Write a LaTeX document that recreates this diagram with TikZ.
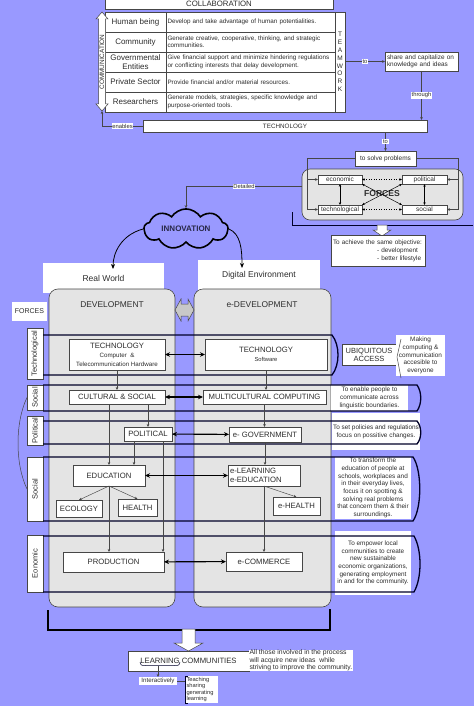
\documentclass[tikz,border=0pt]{standalone}
\usepackage{fontspec}
\setmainfont{Liberation Sans}
\usetikzlibrary{arrows.meta, shapes.symbols}
\definecolor{bgblue}{RGB}{153,153,255}
\definecolor{panel}{RGB}{228,228,228}
\definecolor{arrowgray}{RGB}{200,200,200}
\definecolor{edge}{RGB}{70,70,70}
\definecolor{ink}{RGB}{45,45,45}
\definecolor{navy}{RGB}{0,0,40}
\definecolor{cloudink}{RGB}{40,40,70}

\begin{document}
\begin{tikzpicture}[x=1pt, y=-1pt,
    box/.style={draw=edge, fill=white, line width=0.5pt, anchor=north west, inner sep=0.5pt, outer sep=0pt, align=center, text=ink, font=\fontsize{7.7}{9}\selectfont},
    actor/.style={box, minimum width=61pt, minimum height=20pt, font=\fontsize{8}{9}\selectfont},
    role/.style={box, align=left, text width=166pt, minimum height=20pt, inner xsep=1.5pt, inner ysep=0pt, font=\fontsize{6.3}{7.4}\selectfont},
    note/.style={fill=white, anchor=north west, inner sep=0.5pt, outer sep=0pt, align=center, text=ink, font=\fontsize{6.4}{7.7}\selectfont},
    forcetag/.style={box, rotate=90, anchor=center, minimum height=16pt, font=\fontsize{7.5}{8}\selectfont},
    smallbox/.style={box, minimum height=9pt, font=\fontsize{6.5}{7}\selectfont},
    lbl/.style={fill=white, inner sep=0.6pt, text=ink, font=\fontsize{5.8}{6}\selectfont},
    link/.style={draw=edge, line width=0.45pt, -{Stealth[length=3pt, width=2.6pt]}},
    forcelink/.style={draw=black, line width=0.5pt, {Stealth[length=2.8pt, width=2.4pt]}-{Stealth[length=2.8pt, width=2.4pt]}},
    bothways/.style={draw=black, line width=1.1pt, {Stealth[length=5pt, width=4.5pt]}-{Stealth[length=5pt, width=4.5pt]}},
    curvy/.style={draw=black, line width=0.8pt, -{Stealth[length=5pt, width=4pt]}},
    band/.style={draw=navy, line width=1.3pt},
    panelbox/.style={draw=edge, fill=panel, line width=0.6pt, rounded corners=9pt, anchor=north west, inner sep=0pt, outer sep=0pt},
    block/.style={draw=edge, fill=white, line width=0.5pt}
  ]
  \fill[bgblue] (0,0) rectangle (474,706);
  \useasboundingbox (0,0) rectangle (474,706);

  % collaboration table
  \node[box, minimum width=228pt, minimum height=10pt, font=\fontsize{7.8}{8}\selectfont] (collab) at (105,-1) {COLLABORATION};
  \node[actor] (human) at (105,12) {Human being};
  \node[actor] (commun) at (105,32) {Community};
  \node[actor] (govern) at (105,52) {Governmental\\Entities};
  \node[actor] (private) at (105,72) {Private Sector};
  \node[actor] (research) at (105,92) {Researchers};
  \node[role] (humanrole) at (166,12) {Develop and take advantage of human potentialities.};
  \node[role] (communrole) at (166,32) {Generate creative, cooperative, thinking, and strategic\\communities.};
  \node[role] (governrole) at (166,52) {Give financial support and minimize hindering regulations\\or conflicting interests that delay development.};
  \node[role] (privaterole) at (166,72) {Provide financial and/or material resources.};
  \node[role] (researchrole) at (166,92) {Generate models, strategies, specific knowledge and\\purpose-oriented tools.};
  \node[box, minimum width=10pt, minimum height=100pt, inner sep=0pt, font=\fontsize{6.5}{7.8}\selectfont] (team) at (335,12) {T\\E\\A\\M\\W\\O\\R\\K};

  % communication arrow
  \filldraw[block] (102,12) -- (108,19) -- (105.5,19) -- (105.5,104) -- (108,104) -- (102,111)
    -- (96,104) -- (98.5,104) -- (98.5,19) -- (96,19) -- cycle;
  \node[rotate=90, inner sep=0pt, text=ink, font=\fontsize{6.4}{7}\selectfont] (commtext) at (102,62) {COMMUNICATION};
  \coordinate (commfoot) at (102,111);

  \node[box, minimum width=284pt, minimum height=12pt, font=\fontsize{6.3}{7}\selectfont] (tech) at (143,120) {TECHNOLOGY};
  \node[box, align=left, text width=69pt, inner xsep=2pt, minimum height=19pt, font=\fontsize{6.4}{7.6}\selectfont] (share) at (385,52) {share and capitalize on\\knowledge and ideas};
  \node[box, minimum width=61pt, minimum height=15pt, font=\fontsize{6.5}{7}\selectfont] (solve) at (355,151) {to solve problems};

  \draw[link] (tech.west) -- node[lbl]{enables} (tech.west -| commfoot) -- (commfoot);
  \draw[link] (team.east |- share.west) -- node[lbl]{to} (share.west);
  \draw[link] (share.south) -- node[lbl]{through} (share.south |- tech.north);
  \draw[link] (solve.north |- tech.south) -- node[lbl]{to} (solve.north);

  % forces
  \node[panelbox, minimum width=161pt, minimum height=51pt, rounded corners=8pt] (forces) at (302,169) {};
  \node[text=ink, font=\bfseries\fontsize{8.6}{9}\selectfont] (forcestitle) at (382,194) {FORCES};
  \node[smallbox, minimum width=44pt] (econ) at (318,175) {economic};
  \node[smallbox, minimum width=45pt] (polit) at (402,175) {political};
  \node[smallbox, minimum width=44pt] (techno) at (318,205) {technological};
  \node[smallbox, minimum width=45pt] (soc) at (402,205) {social};
  \draw[link] (solve.west) -| ([xshift=-11pt]techno.west) -- (techno.west);
  \draw[link] ([xshift=-11pt]econ.west) -- (econ.west);
  \draw[link] (solve.east) -| ([xshift=11pt]soc.east) -- (soc.east);
  \draw[link] ([xshift=11pt]polit.east) -- (polit.east);
  \draw[forcelink, dotted] (econ) -- (polit);
  \draw[forcelink, dotted] (techno) -- (soc);
  \draw[forcelink] (econ) -- (techno);
  \draw[forcelink] (polit) -- (soc);
  \draw[forcelink] (econ.south east) -- (soc.north west);
  \draw[forcelink] (polit.south west) -- (techno.north east);

  \draw[navy, line width=0.6pt] (292,212) -- (292,225) -- (473,225);
  \filldraw[block] (377,225) -- (387,225) -- (387,230) -- (391,230) -- (382,236) -- (373,230) -- (377,230) -- cycle;
  \node[box, align=left, text width=90pt, inner xsep=2pt, minimum height=31pt, font=\fontsize{6.4}{8}\selectfont] (goal) at (331,235) {To achieve the same objective:\\\hspace*{44pt}- development\\\hspace*{44pt}- better lifestyle};

  % innovation
  \node[cloud, draw=black, line width=1.6pt, fill=bgblue, cloud puffs=9, cloud puff arc=115, aspect=2.4, minimum width=84pt, minimum height=34pt, inner sep=0pt, text=cloudink, font=\bfseries\fontsize{8}{9}\selectfont] (innov) at (186,229) {INNOVATION};
  \draw[link] ([yshift=8pt]forces.west) -| node[lbl, pos=0.25]{Detailed} (innov.north);

  \node[note, minimum width=121pt, minimum height=30pt, font=\fontsize{8.5}{9}\selectfont] (realw) at (43,263) {Real World};
  \node[note, minimum width=122pt, minimum height=30pt, font=\fontsize{8.5}{9}\selectfont] (digital) at (198,260) {Digital Environment};
  \coordinate (rwtip) at (113,269);
  \coordinate (detip) at (242,268);
  \draw[curvy] (innov.west) .. controls +(-22,6) and +(0,-16) .. (rwtip);
  \draw[curvy] (innov.east) .. controls +(12,5) and +(0,-18) .. (detip);

  % development columns
  \node[panelbox, minimum width=126pt, minimum height=318pt] (dev) at (49,289) {};
  \node[panelbox, minimum width=137pt, minimum height=318pt] (edev) at (194,289) {};
  \node[text=ink, font=\fontsize{8.4}{9}\selectfont] (devtitle) at (112,305) {DEVELOPMENT};
  \node[text=ink, font=\fontsize{8.4}{9}\selectfont] (edevtitle) at (262,305) {e-DEVELOPMENT};
  \filldraw[draw=edge, fill=arrowgray, line width=0.5pt] (175,310) -- (181,299) -- (181,304) -- (188,304) -- (188,299)
    -- (194,310) -- (188,321) -- (188,316) -- (181,316) -- (181,321) -- cycle;

  \node[note, minimum width=35pt, minimum height=19pt, font=\fontsize{7}{7}\selectfont] (forceslbl) at (12,302) {FORCES};
  \node[forcetag, minimum width=51pt] (tlab) at (35,353.5) {Technological};
  \node[forcetag, minimum width=25pt] (slab) at (35,397.5) {Social};
  \node[forcetag, minimum width=29pt] (plab) at (35,430.5) {Political};
  \node[forcetag, minimum width=64pt] (slabb) at (35,489) {Social};
  \node[forcetag, minimum width=57pt] (elab) at (35,563.5) {Eonomic};
  \draw[edge, line width=0.5pt] (slab.north) .. controls +(-12,25) and +(-12,-25) .. (slabb.north);

  % aims of each force
  \node[box, minimum width=54pt, minimum height=21pt, font=\fontsize{7.5}{8}\selectfont] (ubiq) at (342,344) {UBIQUITOUS\\ACCESS};
  \node[note, minimum width=49pt, minimum height=41pt, font=\fontsize{6.4}{7.8}\selectfont] (making) at (396,335) {Making\\computing \&\\communication\\accesible to\\everyone};
  \draw[edge, line width=0.5pt] (401,339) -- (397,357) -- (401,378);
  \node[note, minimum width=77pt, minimum height=26pt] (enable) at (331,385) {To enable people to\\communicate across\\linguistic boundaries.};
  \node[note, minimum width=88pt, minimum height=37pt] (policy) at (332,413) {To set policies and regulations\\focus on possitive changes.};
  \node[note, minimum width=76pt, minimum height=62pt] (transform) at (335,457) {To transform the\\education of people at\\schools, workplaces and\\in their everyday lives,\\focus it on spotting \&\\solving real problems\\that concern them \& their\\surroundings.};
  \node[note, minimum width=76pt, minimum height=64pt] (empower) at (335,531) {To empower local\\communities to create\\new sustainable\\economic organizations,\\generating employment\\in and for the community.};

  % bands
  \draw[band] (43,335) -- (332,335) .. controls (340,345) and (340,365) .. (332,375) -- (43,375);
  \draw[band] (43,385) -- (417,385) .. controls (422,392) and (422,404) .. (417,411) -- (43,411);
  \draw[band] (43,421) -- (417,421) .. controls (422,427) and (422,438) .. (417,444) -- (43,444);
  \draw[band] (43,457) -- (413,457) .. controls (422,470) and (422,508) .. (413,521) -- (43,521);
  \draw[band] (43,536) -- (414,536) .. controls (422,550) and (422,578) .. (414,592) -- (43,592);

  % real world
  \node[box, minimum width=96pt, minimum height=31pt] (techhw) at (69,339) {TECHNOLOGY\\\fontsize{6.2}{7.4}\selectfont Computer\ \ \&\\\fontsize{6.2}{7.4}\selectfont Telecommunication Hardware};
  \node[box, minimum width=96pt, minimum height=14pt] (culture) at (69,390) {CULTURAL \& SOCIAL};
  \node[box, minimum width=48pt, minimum height=14pt] (politl) at (124,427) {POLITICAL};
  \node[box, minimum width=72pt, minimum height=21pt] (educ) at (73,465) {EDUCATION};
  \node[box, minimum width=46pt, minimum height=17pt] (ecol) at (56,500) {ECOLOGY};
  \node[box, minimum width=39pt, minimum height=17pt] (health) at (118,499) {HEALTH};
  \node[box, minimum width=101pt, minimum height=20pt] (prod) at (63,552) {PRODUCTION};

  % digital environment
  \node[box, minimum width=122pt, minimum height=31pt] (techsw) at (205,339) {TECHNOLOGY\\\fontsize{5.8}{7}\selectfont Software};
  \node[box, minimum width=123pt, minimum height=14pt] (multi) at (203,390) {MULTICULTURAL COMPUTING};
  \node[box, minimum width=72pt, minimum height=15pt] (egov) at (229,427) {e- GOVERNMENT};
  \node[box, align=left, text width=68pt, inner xsep=2pt, minimum height=21pt] (elearn) at (228,465) {e-LEARNING\\e-EDUCATION};
  \node[box, minimum width=47pt, minimum height=18pt] (ehealth) at (273,497) {e-HEALTH};
  \node[box, minimum width=76pt, minimum height=19pt] (ecomm) at (226,552) {e-COMMERCE};

  \draw[link] (techhw) -- (culture);
  \draw[link] (politl.north |- culture.south) -- (politl.north);
  \draw[link] (educ.north |- culture.south) -- (educ.north);
  \draw[link] ([xshift=-14pt]politl.south) -- ([xshift=-14pt]politl.south |- educ.north);
  \draw[link] ([xshift=15pt]politl.south) -- ([xshift=15pt]politl.south |- prod.north);
  \draw[link] (educ.south) -- (educ.south |- prod.north);
  \draw[link] (educ.south) -- (ecol.north);
  \draw[link] (educ.south) -- (health.north);
  \draw[link] (techsw.south) -- (techsw.south |- multi.north);
  \draw[link] (multi.south) -- (multi.south |- egov.north);
  \draw[link] (egov.south) -- (egov.south |- elearn.north);
  \draw[link] (elearn.south) -- (elearn.south |- ecomm.north);
  \draw[link] (elearn.south) -- (ehealth.north);

  \draw[bothways] (techhw) -- (techsw);
  \draw[bothways] (culture) -- (multi);
  \draw[bothways] (politl) -- (egov);
  \draw[bothways] (educ) -- (elearn);
  \draw[bothways] (prod) -- (ecomm);

  % learning communities
  \draw[draw=black, line width=1.3pt] (48,610) -- (48,630) -- (330,630) -- (330,609);
  \filldraw[block] (182,629) -- (195,629) -- (195,643) -- (203,643) -- (188.5,651) -- (174,643) -- (182,643) -- cycle;
  \node[box, minimum width=121pt, minimum height=20pt] (learncom) at (128,651) {LEARNING COMMUNITIES};
  \node[note, align=left, inner ysep=0pt, font=\fontsize{6.8}{7.5}\selectfont] (allthose) at (249,650) {All those involved in the process\\will acquire new ideas\ \ while\\striving to improve the community.};
  \draw[navy, line width=0.5pt] (140,662) .. controls (141,665.5) .. (146,665.5) -- (174,665.5) .. controls (179,665.5) .. (180,662);
  \coordinate (brace) at (158,665.5);
  \node[note, minimum width=38pt, minimum height=8pt, font=\fontsize{6.2}{7}\selectfont] (inter) at (139,677) {Interactively};
  \node[note, align=left, text width=30pt, inner xsep=1.5pt, minimum height=27pt, font=\fontsize{5.7}{6.5}\selectfont] (teach) at (185,676) {Teaching\\sharing\\generating\\learning};
  \draw[link] (brace) -- (inter.north);
  \draw[edge, line width=0.5pt] (inter.east) -- (inter.east -| teach.west);
  \draw[navy, line width=0.6pt] ([xshift=3pt]teach.north west) -- (teach.north west) -- (teach.south west) -- ([xshift=3pt]teach.south west);
\end{tikzpicture}
\end{document}
